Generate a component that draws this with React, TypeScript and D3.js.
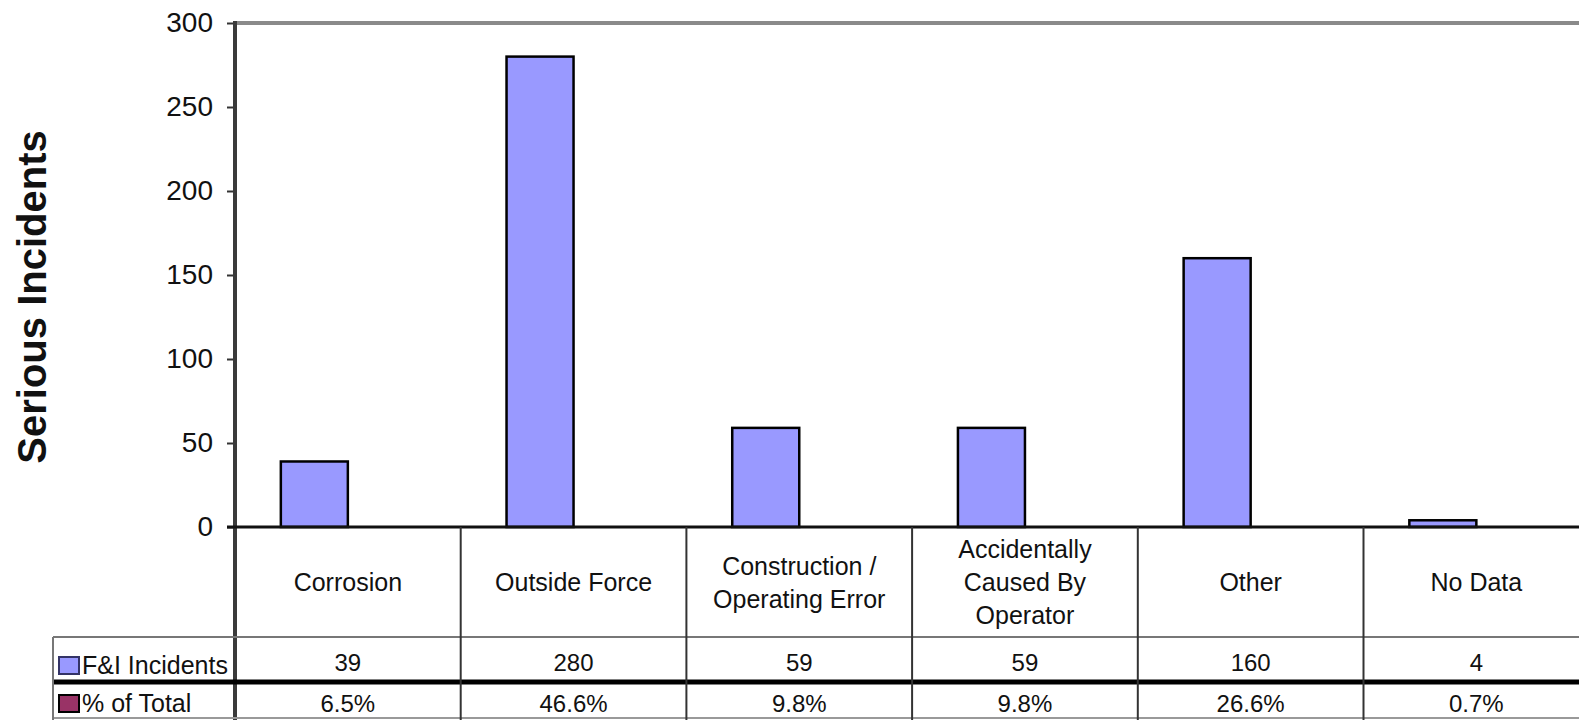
import React, { useRef, useEffect } from 'react';
import * as d3 from 'd3';

const categories = ['Corrosion', 'Outside Force', 'Construction / Operating Error', 'Accidentally Caused By Operator', 'Other', 'No Data'];
const categoryLines = [['Corrosion'], ['Outside Force'], ['Construction /', 'Operating Error'], ['Accidentally', 'Caused By', 'Operator'], ['Other'], ['No Data']];
const seriesNames = ['F&I Incidents', '% of Total'];
const incidents = [39, 280, 59, 59, 160, 4];
const pctOfTotal = [6.5, 46.6, 9.8, 9.8, 26.6, 0.7];
const yTicks = [0, 50, 100, 150, 200, 250, 300];
const seriesColors = ['#9999ff', '#993366'];

const W = 1579;
const H = 720;
const FONT = '"Liberation Sans", Arial, sans-serif';

const App = () => {
  const svgRef = useRef(null);

  useEffect(() => {
    const svg = d3.select(svgRef.current);
    svg.selectAll('*').remove();

    const left = 235;
    const step = 225.7;
    const top = 23;
    const zeroY = 527;
    const headerBottom = 637;
    const rowSplit = 682;
    const tableLeft = 53;

    const x = d3.scaleBand().domain(categories).range([left, left + step * categories.length]).padding(0);
    const xs = d3.scaleBand().domain(seriesNames).range([0, x.bandwidth()]).paddingInner(0).paddingOuter(0.684);
    const y = d3.scaleLinear().domain([0, 300]).range([zeroY, top]);

    // top border
    svg.append('line')
      .attr('x1', left).attr('x2', W).attr('y1', top).attr('y2', top)
      .attr('stroke', '#8a8a8a').attr('stroke-width', 4);

    // bars
    const rows = categories.map((c, i) => ({ c, vals: [incidents[i], pctOfTotal[i] / 100] }));
    const g = svg.append('g');
    rows.forEach(r => {
      r.vals.forEach((v, j) => {
        g.append('rect')
          .attr('x', x(r.c) + xs(seriesNames[j]))
          .attr('y', y(v))
          .attr('width', xs.bandwidth())
          .attr('height', zeroY - y(v))
          .attr('fill', seriesColors[j])
          .attr('stroke', j === 0 ? '#000' : 'none')
          .attr('stroke-width', 2.5);
      });
    });

    // y axis
    const yAxis = svg.append('g').attr('transform', `translate(${left},0)`)
      .call(d3.axisLeft(y).tickValues(yTicks).tickSize(8).tickPadding(14));
    yAxis.select('.domain').remove();
    yAxis.selectAll('line').attr('stroke', '#333').attr('stroke-width', 2);
    yAxis.selectAll('text')
      .attr('font-family', FONT).attr('font-size', 28).attr('fill', '#111');

    svg.append('line')
      .attr('x1', left).attr('x2', left).attr('y1', top - 2).attr('y2', H)
      .attr('stroke', '#3a3a3a').attr('stroke-width', 4);

    // zero line
    svg.append('line')
      .attr('x1', left - 8).attr('x2', W).attr('y1', zeroY).attr('y2', zeroY)
      .attr('stroke', '#111').attr('stroke-width', 3);

    // y title
    svg.append('text')
      .attr('transform', `translate(46,297) rotate(-90)`)
      .attr('text-anchor', 'middle')
      .attr('font-family', FONT).attr('font-size', 40).attr('font-weight', 'bold')
      .attr('fill', '#111')
      .text('Serious Incidents');

    // data table grid
    svg.append('line')
      .attr('x1', tableLeft).attr('x2', W).attr('y1', headerBottom).attr('y2', headerBottom)
      .attr('stroke', '#777').attr('stroke-width', 2);
    svg.append('line')
      .attr('x1', tableLeft).attr('x2', W).attr('y1', rowSplit).attr('y2', rowSplit)
      .attr('stroke', '#000').attr('stroke-width', 5);
    svg.append('line')
      .attr('x1', tableLeft).attr('x2', W).attr('y1', 718).attr('y2', 718)
      .attr('stroke', '#999').attr('stroke-width', 2);
    svg.append('line')
      .attr('x1', tableLeft).attr('x2', tableLeft).attr('y1', headerBottom).attr('y2', H)
      .attr('stroke', '#777').attr('stroke-width', 2);

    categories.slice(1).forEach(c => {
      svg.append('line')
        .attr('x1', x(c)).attr('x2', x(c)).attr('y1', zeroY).attr('y2', H)
        .attr('stroke', '#333').attr('stroke-width', 2);
    });

    // category labels
    categories.forEach((c, i) => {
      const lines = categoryLines[i];
      const cy = (zeroY + headerBottom) / 2;
      const lh = 33;
      const t = svg.append('text')
        .attr('text-anchor', 'middle')
        .attr('font-family', FONT).attr('font-size', 25).attr('fill', '#111');
      lines.forEach((ln, k) => {
        t.append('tspan')
          .attr('x', x(c) + x.bandwidth() / 2)
          .attr('y', cy + (k - (lines.length - 1) / 2) * lh + 9)
          .text(ln);
      });
    });

    // table values
    const rowBase = [671, 712];
    const rowFmt = [d => String(d), d => d.toFixed(1) + '%'];
    [incidents, pctOfTotal].forEach((vals, j) => {
      vals.forEach((v, i) => {
        svg.append('text')
          .attr('x', x(categories[i]) + x.bandwidth() / 2)
          .attr('y', rowBase[j])
          .attr('text-anchor', 'middle')
          .attr('font-family', FONT).attr('font-size', 24).attr('fill', '#111')
          .text(rowFmt[j](v));
      });
    });

    // row legend
    const keyY = [657, 695];
    const keyStroke = ['#333366', '#000'];
    seriesNames.forEach((s, j) => {
      svg.append('rect')
        .attr('x', 59).attr('y', keyY[j]).attr('width', 20).attr('height', 17)
        .attr('fill', seriesColors[j]).attr('stroke', keyStroke[j]).attr('stroke-width', 2);
      svg.append('text')
        .attr('x', 82).attr('y', keyY[j] + 17)
        .attr('font-family', FONT).attr('font-size', 25).attr('fill', '#111')
        .text(s);
    });
  }, []);

  return (
    <svg ref={svgRef} width={W} height={H}
      style={{ position: 'absolute', left: 0, top: 0, background: '#fff', display: 'block' }}>
    </svg>
  );
};

export default App;
